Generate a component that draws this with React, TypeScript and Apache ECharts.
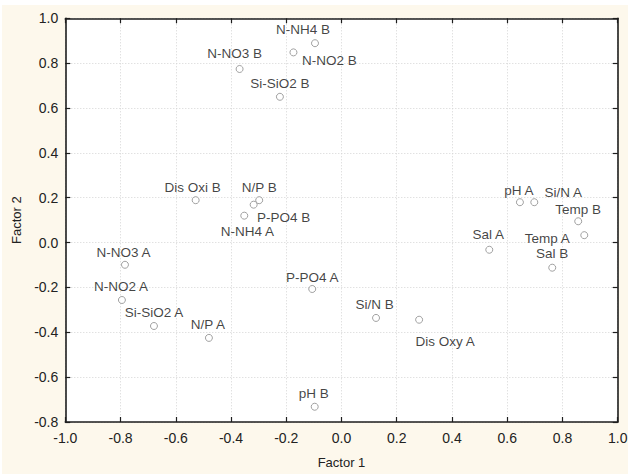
import React, { useEffect, useRef } from "react";
import * as echarts from "echarts";

// Factor loadings of the variables
const variables = [
  "N-NH4 B", "N-NO2 B", "N-NO3 B", "Si-SiO2 B", "Dis Oxi B", "N/P B", "P-PO4 B", "N-NH4 A",
  "pH A", "Si/N A", "Temp B", "Temp A", "Sal A", "Sal B", "P-PO4 A", "Si/N B",
  "Dis Oxy A", "pH B", "N-NO3 A", "N-NO2 A", "Si-SiO2 A", "N/P A",
];
const factor1 = [
  -0.096, -0.174, -0.369, -0.223, -0.528, -0.298, -0.318, -0.352,
  0.646, 0.698, 0.857, 0.879, 0.535, 0.763, -0.106, 0.125,
  0.281, -0.097, -0.784, -0.795, -0.679, -0.48,
];
const factor2 = [
  0.889, 0.848, 0.774, 0.65, 0.189, 0.189, 0.169, 0.12,
  0.18, 0.18, 0.095, 0.033, -0.032, -0.112, -0.207, -0.336,
  -0.344, -0.732, -0.099, -0.256, -0.372, -0.425,
];

// Label placement around each marker (pixels, label centre relative to marker)
const labelOffsets: [number, number][] = [
  [-12, -14], [36, 8], [-5, -15], [0, -13], [-3, -13], [0, -13], [30, 13], [3, 16],
  [-1, -12], [29, -10], [0, -12], [-37, 3], [-1, -15], [0, -14], [0, -12], [-1.5, -13],
  [26, 22], [-1, -13], [-1.5, -12.5], [-1, -13], [0, -14], [-1, -13],
];

const xTicks = { min: -1.0, max: 1.0, interval: 0.2 };
const yTicks = { min: -0.8, max: 1.0, interval: 0.2 };

const FONT = "Arial, 'Liberation Sans', sans-serif";
const FRAME = "#1e1e1e";

export default function App() {
  const ref = useRef<HTMLDivElement>(null);

  useEffect(() => {
    if (!ref.current) return;
    const chart = echarts.init(ref.current, undefined, { renderer: "svg" });

    const data = variables.map((name, i) => ({
      name,
      value: [factor1[i], factor2[i]],
    }));

    const tickLabel = { color: "#222", fontSize: 14, fontFamily: FONT };
    const axisBase = {
      type: "value" as const,
      axisLine: { show: true, onZero: false, lineStyle: { color: FRAME, width: 1.6 } },
      axisTick: { show: true, inside: true, length: 5, lineStyle: { color: FRAME, width: 1.2 } },
    };

    chart.setOption({
      animation: false,
      backgroundColor: "#fdf8ec",
      grid: {
        left: 63.3,
        right: 10.3,
        top: 13.3,
        bottom: 52,
        show: true,
        backgroundColor: "#ffffff",
        borderWidth: 0,
        containLabel: false,
        outerBoundsMode: "none",
      },
      xAxis: [
        {
          ...axisBase,
          position: "bottom",
          ...xTicks,
          name: "Factor 1",
          nameLocation: "middle",
          nameGap: 34,
          nameTextStyle: { color: "#222", fontSize: 13, fontFamily: FONT },
          axisLabel: { ...tickLabel, margin: 9, formatter: (v: number) => v.toFixed(1) },
          splitLine: { show: true, lineStyle: { color: "#d4d4d4", type: [1, 2], width: 1 } },
        },
        {
          ...axisBase,
          position: "top",
          ...xTicks,
          axisLabel: { show: false },
          splitLine: { show: false },
        },
      ],
      yAxis: [
        {
          ...axisBase,
          position: "left",
          ...yTicks,
          name: "Factor 2",
          nameLocation: "middle",
          nameGap: 42,
          nameTextStyle: { color: "#222", fontSize: 13, fontFamily: FONT },
          axisLabel: { ...tickLabel, margin: 7, formatter: (v: number) => v.toFixed(1) },
          splitLine: { show: true, lineStyle: { color: "#d4d4d4", type: [1, 2], width: 1 } },
        },
        {
          ...axisBase,
          position: "right",
          ...yTicks,
          axisLabel: { show: false },
          splitLine: { show: false },
        },
      ],
      series: [
        {
          type: "scatter",
          data,
          symbol: "circle",
          symbolSize: 7,
          itemStyle: { color: "#ffffff", borderColor: "#8a8a8a", borderWidth: 1 },
          label: {
            show: true,
            position: "inside",
            formatter: "{b}",
            color: "#111",
            fontSize: 13.5,
            fontFamily: FONT,
            textBorderWidth: 0,
            textBorderColor: "transparent",
          },
          labelLayout: (params: any) => {
            const [dx, dy] = labelOffsets[params.dataIndex];
            return { dx, dy, hideOverlap: false };
          },
          z: 3,
        },
      ],
    });

    return () => chart.dispose();
  }, []);

  return (
    <div style={{ position: "fixed", left: 0, top: 0, width: 628, height: 474, background: "#ffffff" }}>
      <div
        ref={ref}
        style={{ position: "absolute", left: 2, top: 5, width: 626, height: 469 }}
      />
    </div>
  );
}
